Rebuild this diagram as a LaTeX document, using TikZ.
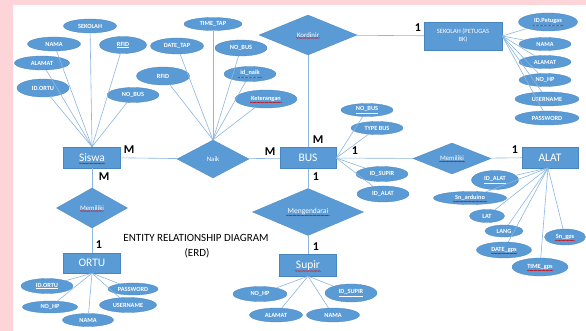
\documentclass[tikz,border=0pt]{standalone}
\usepackage{fontspec}
\setmainfont{Carlito}
\usetikzlibrary{shapes.geometric,decorations.pathmorphing}
\definecolor{boxblue}{HTML}{5B9BD5}
\definecolor{boxedge}{HTML}{4A86BE}
\definecolor{lineblue}{HTML}{8DB6E0}
\definecolor{pinkbg}{HTML}{FDD5D8}
\newcommand\afont{\fontsize{6.3}{7}\selectfont\bfseries}
\newcommand\spellline[3]{\draw[squig] ([xshift=-#2pt,yshift=-#3pt]#1.center) -- ([xshift=#2pt,yshift=-#3pt]#1.center);}
\begin{document}
\begin{tikzpicture}[x=1pt,y=-1pt,
  attr/.style 2 args={ellipse, fill=boxblue, draw=boxedge, line width=.3pt, text=white, font=\afont, inner sep=0pt, minimum width=#1pt, minimum height=#2pt},
  ent/.style 2 args={rectangle, fill=boxblue, draw=boxedge, line width=.4pt, text=white, font=\fontsize{11.5}{12}\selectfont, inner sep=0pt, minimum width=#1pt, minimum height=#2pt},
  rel/.style 2 args={diamond, fill=boxblue, draw=boxedge, line width=.3pt, text=white, font=\fontsize{6.8}{7}\selectfont, inner sep=0pt, minimum width=#1pt, minimum height=#2pt},
  conn/.style={draw=lineblue, line width=.6pt},
  card/.style={font=\fontsize{12}{12}\selectfont\bfseries, text=black, inner sep=0pt},
  title/.style={font=\fontsize{11}{12}\selectfont, text=black, inner sep=0pt},
  squig/.style={draw=red!85!black, line width=.3pt, decorate, decoration={snake, amplitude=.4pt, segment length=1.6pt}}]
\useasboundingbox (0,0) rectangle (586,331);
\fill[pinkbg] (0,0) rectangle (586,331);
\fill[white] (13,5) rectangle (586,331);

% entities
\node[ent={57}{21}] (siswa) at (92,157.5) {Siswa};
\node[ent={56}{21}] (bus) at (308,158) {BUS};
\node[ent={56}{21}] (alat) at (550,157.5) {ALAT};
\node[ent={78}{28}, font=\fontsize{6.5}{8}\selectfont, align=center] (sekolah) at (463,36) {SEKOLAH (PETUGAS\\BK)};
\node[ent={57}{20}] (ortu) at (92,263) {ORTU};
\node[ent={57}{22}] (supir) at (308,265) {Supir};

% relationships
\node[rel={72}{38}] (naik) at (213,159) {Naik};
\node[rel={71}{40}] (mem1) at (92,208) {Memiliki};
\node[rel={98}{40}] (kord) at (308,35) {Kordinir};
\node[rel={78}{31}] (mem2) at (452,158.5) {Memiliki};
\node[rel={111}{40}, font=\fontsize{7.5}{8}\selectfont] (meng) at (308,212) {Mengendarai};

% relationship connectors
\draw[conn] (siswa) -- (naik);
\draw[conn] (naik) -- (bus);
\draw[conn] (siswa) -- (mem1);
\draw[conn] (mem1) -- (ortu);
\draw[conn] (kord) -- (bus);
\draw[conn] (kord) -- (sekolah);
\draw[conn] (bus) -- (mem2);
\draw[conn] (mem2) -- (alat);
\draw[conn] (bus) -- (meng);
\draw[conn] (meng) -- (supir);

% Siswa attributes
\node[attr={53}{14}] (s_sek) at (90,26) {SEKOLAH};
\node[attr={53}{14}] (s_nama) at (54,44) {NAMA};
\node[attr={47}{17}] (s_rfid) at (123,45) {\underline{RFID}};
\node[attr={55}{14}] (s_alamat) at (42,63) {ALAMAT};
\node[attr={52}{18}] (s_idortu) at (43,88) {ID.ORTU};
\node[attr={52}{15}] (s_nobus) at (133,95) {NO\_BUS};
\foreach \n in {s_sek,s_nama,s_rfid,s_alamat,s_idortu,s_nobus} \draw[conn] (siswa.north) -- (\n);

% Naik attributes
\node[attr={58}{13}] (n_time) at (213,24) {TIME\_TAP};
\node[attr={53}{16}] (n_date) at (177,46) {DATE\_TAP};
\node[attr={52}{16}] (n_nobus) at (241,48) {NO\_BUS};
\node[attr={53}{18}] (n_rfid) at (163,76) {RFID};
\node[attr={52}{15}] (n_id) at (250,74) {\underline{id\_naik}};
\node[attr={62}{18}] (n_ket) at (266,99) {Keterangan};
\foreach \n in {n_time,n_date,n_nobus,n_rfid,n_id,n_ket} \draw[conn] (naik.north) -- (\n);

% Sekolah attributes
\node[attr={59}{18}] (k_id) at (548,22) {\underline{ID.Petugas}};
\node[attr={52}{13}] (k_nama) at (545,44) {NAMA};
\node[attr={52}{13}] (k_alamat) at (545,62) {ALAMAT};
\node[attr={52}{13}] (k_nohp) at (545,80) {NO\_HP};
\node[attr={64}{14}] (k_user) at (547,99) {USERNAME};
\node[attr={64}{14}] (k_pass) at (547,118) {PASSWORD};
\foreach \n in {k_id,k_nama,k_alamat,k_nohp,k_user,k_pass} \draw[conn] (sekolah.east) -- (\n);

% Bus attributes
\node[attr={52}{13}] (b_nobus) at (367,110) {\underline{NO\_BUS}};
\node[attr={52}{13}] (b_type) at (377,128) {TYPE BUS};
\node[attr={52}{15}] (b_idsup) at (382,174) {ID\_SUPIR};
\node[attr={52}{16}] (b_idalat) at (383,194) {ID\_ALAT};
\foreach \n in {b_nobus,b_type,b_idsup,b_idalat} \draw[conn] (bus.east) -- (\n);

% Alat attributes
\node[attr={47}{19}] (a_id) at (495,180) {\underline{ID\_ALAT}};
\node[attr={73}{13}] (a_sn) at (470,198) {Sn\_arduino};
\node[attr={35}{13}] (a_lat) at (487,216) {LAT};
\node[attr={38}{12}] (a_lang) at (504,231) {LANG};
\node[attr={55}{16}] (a_date) at (504,250) {DATE\_gps};
\node[attr={56}{18}] (a_time) at (540,267) {TIME\_gps};
\node[attr={41}{16}] (a_sngps) at (565,237) {Sn\_gps};
\coordinate (alatfan) at (548,168);
\foreach \n in {a_id,a_sn,a_lat,a_lang,a_date,a_time,a_sngps} \draw[conn] (alatfan) -- (\n);

% Ortu attributes
\node[attr={52}{15}] (o_id) at (47,286) {\underline{ID.ORTU}};
\node[attr={50}{12}] (o_pass) at (133,289) {PASSWORD};
\node[attr={55}{12}] (o_nohp) at (50,307) {NO\_HP};
\node[attr={57}{15}] (o_user) at (128,305) {USERNAME};
\node[attr={51}{13}] (o_nama) at (88,320) {NAMA};
\foreach \n in {o_id,o_pass,o_nohp,o_user,o_nama} \draw[conn] (ortu.south) -- (\n);

% Supir attributes
\node[attr={54}{15}] (p_nohp) at (260,294) {NO\_HP};
\node[attr={52}{18}] (p_id) at (351,293) {\underline{ID\_SUPIR}};
\node[attr={53}{14}] (p_alamat) at (276,315) {ALAMAT};
\node[attr={53}{14}] (p_nama) at (333,315) {NAMA};
\foreach \n in {p_nohp,p_id,p_alamat,p_nama} \draw[conn] (supir.south) -- (\n);

% cardinalities
\node[card] (c1) at (129,150) {M};
\node[card] (c2) at (104,177) {M};
\node[card] (c3) at (270,152) {M};
\node[card] (c4) at (318,140) {M};
\node[card] (c5) at (355,151) {1};
\node[card] (c6) at (316,177) {1};
\node[card] (c7) at (515,150) {1};
\node[card] (c8) at (418,28) {1};
\node[card] (c9) at (99,245) {1};
\node[card] (c10) at (316,247) {1};

% title
\node[title] (t1) at (196,238) {ENTITY RELATIONSHIP DIAGRAM};
\node[title] (t2) at (197,253) {(ERD)};

% spell-check marks
\spellline{siswa}{13}{6}
\spellline{supir}{13}{6}
\spellline{kord}{12}{3}
\spellline{mem1}{12}{3}
\spellline{mem2}{13}{3}
\spellline{meng}{22}{3.5}
\spellline{n_id}{12}{3.5}
\spellline{n_ket}{16}{3.5}
\spellline{k_id}{15}{3.5}
\spellline{a_sn}{17}{3.5}
\spellline{a_date}{13}{3.5}
\spellline{a_time}{13}{3.5}
\spellline{a_sngps}{10}{3.5}
\end{tikzpicture}
\end{document}
